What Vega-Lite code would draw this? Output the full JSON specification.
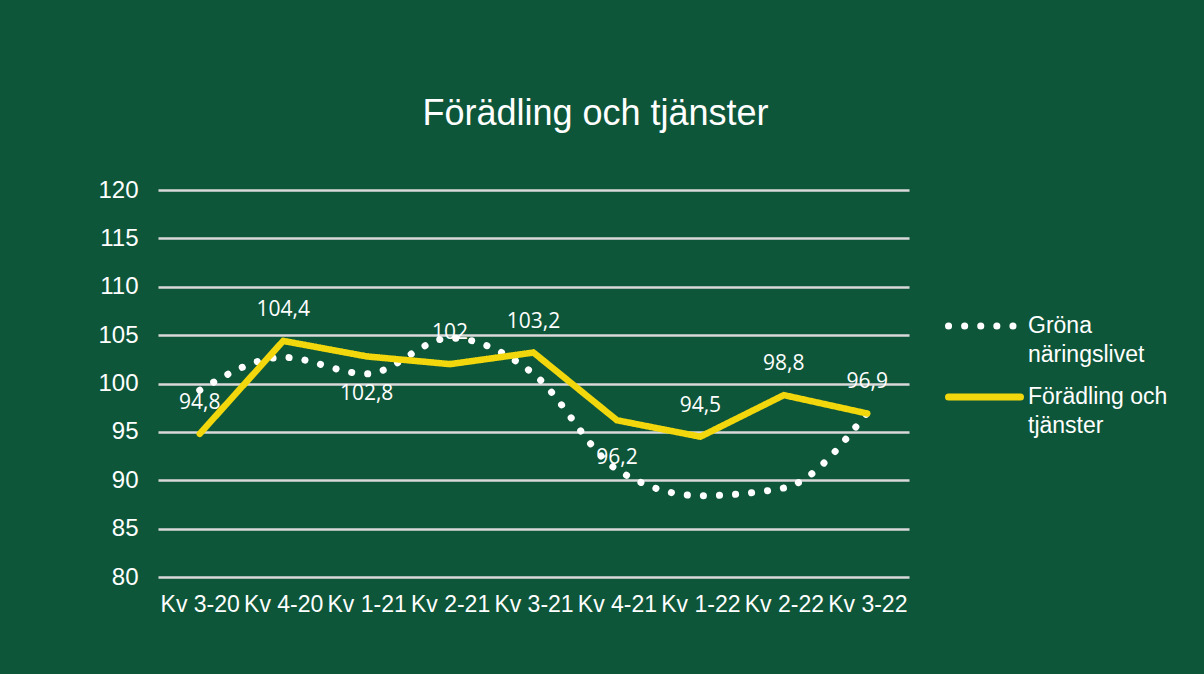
{
  "$schema": "https://vega.github.io/schema/vega-lite/v6.json",
  "width": 751,
  "height": 387,
  "autosize": {"type": "none"},
  "padding": {"left": 158, "top": 190, "right": 295, "bottom": 97},
  "background": "#0e563a",
  "title": {
    "text": "Förädling och tjänster",
    "anchor": "middle",
    "dx": 62,
    "offset": 17,
    "baseline": "alphabetic",
    "font": "Liberation Sans",
    "fontSize": 36,
    "fontWeight": "normal",
    "color": "#ffffff"
  },
  "config": {
    "locale": {"number": {"decimal": ",", "thousands": " ", "grouping": [3], "currency": ["", " kr"]}},
    "view": {"stroke": null}
  },
  "data": {
    "values": [
      {"kvartal": "Kv 3-20", "serie": "Gröna näringslivet", "value": 99.3},
      {"kvartal": "Kv 4-20", "serie": "Gröna näringslivet", "value": 102.7},
      {"kvartal": "Kv 1-21", "serie": "Gröna näringslivet", "value": 101.0},
      {"kvartal": "Kv 2-21", "serie": "Gröna näringslivet", "value": 104.7},
      {"kvartal": "Kv 3-21", "serie": "Gröna näringslivet", "value": 101.0},
      {"kvartal": "Kv 4-21", "serie": "Gröna näringslivet", "value": 91.1},
      {"kvartal": "Kv 1-22", "serie": "Gröna näringslivet", "value": 88.4},
      {"kvartal": "Kv 2-22", "serie": "Gröna näringslivet", "value": 89.2},
      {"kvartal": "Kv 3-22", "serie": "Gröna näringslivet", "value": 97.0},
      {"kvartal": "Kv 3-20", "serie": "Förädling och tjänster", "value": 94.8},
      {"kvartal": "Kv 4-20", "serie": "Förädling och tjänster", "value": 104.4},
      {"kvartal": "Kv 1-21", "serie": "Förädling och tjänster", "value": 102.8},
      {"kvartal": "Kv 2-21", "serie": "Förädling och tjänster", "value": 102.0},
      {"kvartal": "Kv 3-21", "serie": "Förädling och tjänster", "value": 103.2},
      {"kvartal": "Kv 4-21", "serie": "Förädling och tjänster", "value": 96.2},
      {"kvartal": "Kv 1-22", "serie": "Förädling och tjänster", "value": 94.5},
      {"kvartal": "Kv 2-22", "serie": "Förädling och tjänster", "value": 98.8},
      {"kvartal": "Kv 3-22", "serie": "Förädling och tjänster", "value": 96.9}
    ]
  },
  "encoding": {
    "x": {
      "field": "kvartal",
      "type": "ordinal",
      "sort": null,
      "scale": {"type": "point", "padding": 0.5},
      "axis": {
        "title": null,
        "labelAngle": 0,
        "domain": false,
        "ticks": false,
        "tickSize": 0,
        "grid": false,
        "labelPadding": 16,
        "labelOverlap": false,
        "labelBound": false,
        "labelFont": "Liberation Sans",
        "labelFontSize": 23,
        "labelColor": "#ffffff"
      }
    },
    "y": {
      "field": "value",
      "type": "quantitative",
      "scale": {"domain": [80, 120], "nice": false, "zero": false},
      "axis": {
        "title": null,
        "values": [80, 85, 90, 95, 100, 105, 110, 115, 120],
        "domain": false,
        "ticks": false,
        "tickSize": 0,
        "labelPadding": 20,
        "grid": true,
        "gridColor": "#d9d9d9",
        "gridWidth": 2.5,
        "labelFont": "Liberation Sans",
        "labelFontSize": 24,
        "labelColor": "#ffffff"
      }
    }
  },
  "layer": [
    {
      "transform": [{"filter": "datum.serie == 'Gröna näringslivet'"}],
      "mark": {"type": "line", "interpolate": "monotone", "strokeWidth": 7, "strokeCap": "round"},
      "encoding": {
        "color": {
          "field": "serie",
          "type": "nominal",
          "scale": {"domain": ["Gröna näringslivet", "Förädling och tjänster"], "range": ["#ffffff", "#f2d70c"]},
          "legend": {
            "orient": "none",
            "legendX": 787,
            "legendY": 121,
            "title": null,
            "padding": 0,
            "symbolType": "stroke",
            "symbolSize": 5184,
            "symbolStrokeWidth": 7,
            "labelFont": "Liberation Sans",
            "labelFontSize": 23,
            "labelColor": "#ffffff",
            "labelLimit": 300,
            "labelOffset": 4,
            "clipHeight": 30,
            "rowPadding": 15,
            "labelExpr": "datum.label == 'Gröna näringslivet' ? ['Gröna', 'näringslivet'] : ['Förädling och', 'tjänster']",
            "encoding": {
              "symbols": {"strokeCap": {"value": "round"}},
              "labels": {"lineHeight": {"value": 29}}
            }
          }
        },
        "strokeDash": {
          "field": "serie",
          "type": "nominal",
          "scale": {"domain": ["Gröna näringslivet", "Förädling och tjänster"], "range": [[0.1, 16], [1, 0]]},
          "legend": {
            "orient": "none",
            "legendX": 787,
            "legendY": 121,
            "title": null,
            "padding": 0,
            "symbolType": "stroke",
            "symbolSize": 5184,
            "symbolStrokeWidth": 7,
            "labelFont": "Liberation Sans",
            "labelFontSize": 23,
            "labelColor": "#ffffff",
            "labelLimit": 300,
            "labelOffset": 4,
            "clipHeight": 30,
            "rowPadding": 15,
            "labelExpr": "datum.label == 'Gröna näringslivet' ? ['Gröna', 'näringslivet'] : ['Förädling och', 'tjänster']",
            "encoding": {
              "symbols": {"strokeCap": {"value": "round"}},
              "labels": {"lineHeight": {"value": 29}}
            }
          }
        }
      }
    },
    {
      "transform": [{"filter": "datum.serie == 'Förädling och tjänster'"}],
      "mark": {"type": "line", "strokeWidth": 6.5, "strokeCap": "round"},
      "encoding": {
        "color": {"field": "serie", "type": "nominal"},
        "strokeDash": {"field": "serie", "type": "nominal"}
      }
    },
    {
      "transform": [
        {"filter": "datum.serie == 'Förädling och tjänster' && datum.kvartal != 'Kv 1-21' && datum.kvartal != 'Kv 4-21'"}
      ],
      "mark": {"type": "text", "dy": -31, "baseline": "middle", "align": "center", "font": "Open Sans", "fontSize": 21, "color": "#ffffff"},
      "encoding": {"text": {"field": "value", "type": "quantitative", "format": "~g"}}
    },
    {
      "transform": [
        {"filter": "datum.serie == 'Förädling och tjänster' && (datum.kvartal == 'Kv 1-21' || datum.kvartal == 'Kv 4-21')"}
      ],
      "mark": {"type": "text", "dy": 38, "baseline": "middle", "align": "center", "font": "Open Sans", "fontSize": 21, "color": "#ffffff"},
      "encoding": {"text": {"field": "value", "type": "quantitative", "format": "~g"}}
    }
  ]
}
